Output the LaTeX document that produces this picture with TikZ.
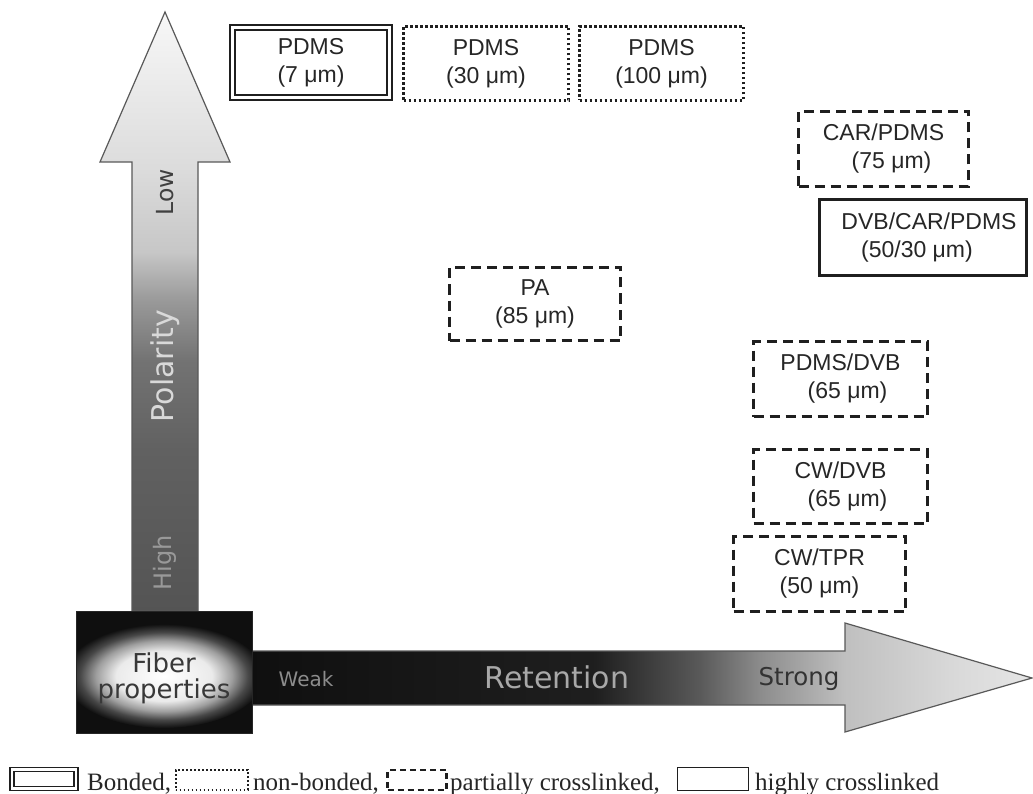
\documentclass[tikz,border=0pt]{standalone}
\usepackage{fontspec}
\setmainfont{Liberation Sans}
\newfontfamily\legserif{Liberation Serif}
\newfontfamily\dejavu{DejaVu Sans}
\definecolor{boxline}{gray}{0.12}
\definecolor{boxtext}{gray}{0.15}
\definecolor{arrline}{gray}{0.35}
\definecolor{gA}{gray}{0.33}
\definecolor{gB}{gray}{0.38}
\definecolor{gC}{gray}{0.45}
\definecolor{gD}{gray}{0.60}
\definecolor{gE}{gray}{0.78}
\definecolor{gF}{gray}{0.86}
\definecolor{gG}{gray}{0.97}
\definecolor{hA}{gray}{0.06}
\definecolor{hB}{gray}{0.12}
\definecolor{hC}{gray}{0.35}
\definecolor{hD}{gray}{0.55}
\definecolor{hE}{gray}{0.75}
\definecolor{hF}{gray}{0.85}
\definecolor{hG}{gray}{0.90}
\definecolor{rW}{gray}{1.0}
\definecolor{rA}{gray}{0.92}
\definecolor{rB}{gray}{0.62}
\definecolor{rC}{gray}{0.28}
\definecolor{rE}{gray}{0.06}
\pgfdeclareverticalshading{polshade}{100bp}{color(0bp)=(gA); color(25bp)=(gA); color(38.4bp)=(gB); color(45.9bp)=(gC); color(50.9bp)=(gD); color(55bp)=(gE); color(61.75bp)=(gF); color(75bp)=(gG); color(100bp)=(gG)}
\pgfdeclarehorizontalshading{retshade}{100bp}{color(0bp)=(hA); color(25bp)=(hA); color(47bp)=(hB); color(53.7bp)=(hC); color(57.6bp)=(hD); color(63bp)=(hE); color(70bp)=(hF); color(75bp)=(hG); color(100bp)=(hG)}
\pgfdeclareradialshading{glow}{\pgfpoint{0bp}{0bp}}{color(0bp)=(rW); color(12bp)=(rA); color(17bp)=(rB); color(21bp)=(rC); color(25bp)=(rE); color(50bp)=(rE)}
\tikzset{
  fbox/.style={rectangle, inner sep=0pt, align=center, text=boxtext, draw=boxline,
    font=\fontsize{23}{28}\selectfont},
  bonded/.style={fbox, double=white, line width=2pt, double distance=3pt},
  nonbonded/.style={fbox, line width=2.8pt, dash pattern=on 2.4pt off 2.6pt},
  partial/.style={fbox, line width=3pt, dash pattern=on 10pt off 6pt},
  highly/.style={fbox, line width=2.5pt},
  legsw/.style={rectangle, inner sep=0pt, draw=boxline, minimum height=23pt},
  legbonded/.style={legsw, double=white, line width=1.6pt, double distance=2.4pt, minimum height=19pt},
  legdotted/.style={legsw, line width=2pt, dash pattern=on 1.8pt off 2.2pt, minimum height=20pt},
  legdashed/.style={legsw, line width=2.2pt, dash pattern=on 6pt off 4pt, minimum height=20pt},
  leghighly/.style={legsw, line width=1.8pt},
  legtext/.style={anchor=base west, inner sep=0pt, text=boxtext, font=\legserif\fontsize{25}{30}\selectfont},
  arrlabel/.style={inner sep=0pt, font=\dejavu},
}
\begin{document}
\begin{tikzpicture}[x=1pt, y=-1pt]
\useasboundingbox (0,0) rectangle (1033,794);
\fill[white] (0,0) rectangle (1033,794);
% vertical arrow (polarity)
\shade[shading=polshade] (165,12) -- (230,162) -- (198,162) -- (198,611) -- (132,611) -- (132,162) -- (100,162) -- cycle;
\draw[arrline, line width=1.2pt, line join=miter] (165,12) -- (230,162) -- (198,162) -- (198,611) -- (132,611) -- (132,162) -- (100,162) -- cycle;
% horizontal arrow (retention)
\shade[shading=retshade] (252,651) -- (845,651) -- (845,623) -- (1032,678) -- (845,732) -- (845,705) -- (252,705) -- cycle;
\draw[arrline, line width=1.2pt, line join=miter] (252,651) -- (845,651) -- (845,623) -- (1032,678) -- (845,732) -- (845,705) -- (252,705) -- cycle;
% fiber properties box
\fill[rE] (76,611) rectangle (252,733);
\begin{scope}
  \clip (76,611) rectangle (252,733);
  \shade[shading=glow] (164,676) ellipse [x radius=100, y radius=52];
\end{scope}
\draw[black!85, line width=1pt] (76,611) rectangle (252,733);
\node[arrlabel, align=center, font=\dejavu\fontsize{26}{26}\selectfont, text=black!78] (fiber) at (164,678)
  {Fiber\\properties};
% arrow labels
\node[arrlabel, rotate=90, font=\dejavu\fontsize{23.5}{26}\selectfont, text=black!75] (low) at (165,192) {Low};
\node[arrlabel, rotate=90, font=\dejavu\fontsize{30}{32}\selectfont, text=white!85!black] (polarity) at (165,366) {Polarity};
\node[arrlabel, rotate=90, font=\dejavu\fontsize{24}{26}\selectfont, text=white!60!black] (high) at (165,563) {High};
\node[arrlabel, font=\dejavu\fontsize{20}{22}\selectfont, text=black!45] (weak) at (306,679) {Weak};
\node[arrlabel, font=\dejavu\fontsize{30}{32}\selectfont, text=white!66!black] (retention) at (557,677) {Retention};
\node[arrlabel, font=\dejavu\fontsize{24.5}{26}\selectfont, text=black!80] (strong) at (799,679) {Strong};
% fiber boxes
\node[bonded, minimum width=157pt, minimum height=70pt] (p7) at (311,63) {PDMS\\(7 μm)};
\node[nonbonded, minimum width=165pt, minimum height=74pt] (p30) at (486,63.5) {PDMS\\(30 μm)};
\node[nonbonded, minimum width=164pt, minimum height=74pt] (p100) at (661.5,63.5) {PDMS\\(100 μm)};
\node[partial, minimum width=170pt, minimum height=75pt] (car) at (883.5,149) {CAR/PDMS\\\hspace*{16pt}(75 μm)};
\node[highly, minimum width=207pt, minimum height=76pt] (dcp) at (923,237.5) {\hspace*{12pt}DVB/CAR/PDMS\\(50/30 μm)\hspace*{12pt}};
\node[partial, minimum width=171pt, minimum height=73pt] (pa) at (535,304) {PA\\(85 μm)};
\node[partial, minimum width=174pt, minimum height=75pt] (pdv) at (840.5,379) {PDMS/DVB\\\hspace*{14pt}(65 μm)};
\node[partial, minimum width=174pt, minimum height=74pt] (cwd) at (840.5,486.5) {CW/DVB\\\hspace*{14pt}(65 μm)};
\node[partial, minimum width=172pt, minimum height=75pt] (cwt) at (819.5,574) {CW/TPR\\(50 μm)};
% legend
\node[legbonded, minimum width=64pt] (lg1) at (44,779) {};
\node[legtext] (lt1) at (87,790) {Bonded,};
\node[legdotted, minimum width=72pt] (lg2) at (211.5,780) {};
\node[legtext] (lt2) at (253,790) {non-bonded,};
\node[legdashed, minimum width=59pt] (lg3) at (417,780) {};
\node[legtext] (lt3) at (450,790) {partially crosslinked,};
\node[leghighly, minimum width=71pt] (lg4) at (713,779) {};
\node[legtext] (lt4) at (755,790) {highly crosslinked};
\end{tikzpicture}
\end{document}
